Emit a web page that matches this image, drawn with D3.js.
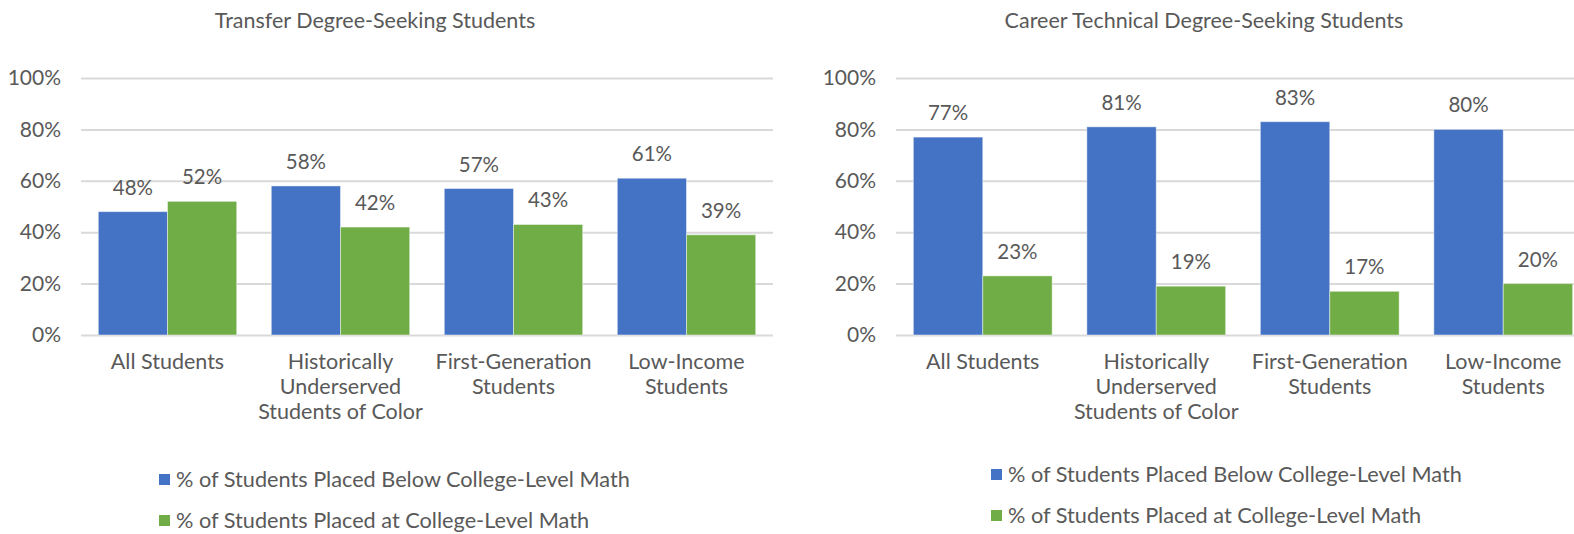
<!DOCTYPE html>
<html>
<head>
<meta charset="utf-8">
<script src="https://cdn.jsdelivr.net/npm/d3@7"></script>
<style>
  html, body { margin: 0; padding: 0; background: #fff; }
  svg { display: block; font-family: Lato, "Open Sans", sans-serif; }
  svg text { font-family: Lato, "Open Sans", sans-serif; }
</style>
</head>
<body>
<svg id="chart" width="1574" height="534"></svg>
<script>
// Student groups shown on both panels
const categories = [
  "All Students",
  "Historically Underserved Students of Color",
  "First-Generation Students",
  "Low-Income Students"
];

// Series names
const seriesNames = [
  "% of Students Placed Below College-Level Math",
  "% of Students Placed at College-Level Math"
];

// Transfer degree-seeking students (percent)
const transferBelow = [48, 58, 57, 61];
const transferAt = [52, 42, 43, 39];

// Career technical degree-seeking students (percent)
const careerBelow = [77, 81, 83, 80];
const careerAt = [23, 19, 17, 20];

// Y axis ticks
const yTicks = [0, 20, 40, 60, 80, 100];

const panelTitles = [
  "Transfer Degree-Seeking Students",
  "Career Technical Degree-Seeking Students"
];

const colors = ["#4472C4", "#70AD47"];
const textColor = "#595959";
const gridColor = "#D9D9D9";
const fontFamily = 'Lato, "Open Sans", sans-serif';

const svg = d3.select("#chart");

const panels = [
  { title: panelTitles[0], series: [transferBelow, transferAt],
    left: 81, right: 773, titleX: 375, legendX: 159, legendY: [474, 515] },
  { title: panelTitles[1], series: [careerBelow, careerAt],
    left: 896, right: 1590, titleX: 1204, legendX: 991, legendY: [469, 510] }
];

const plotTop = 78, plotBottom = 335;

function wrap(textSel, width) {
  textSel.each(function () {
    const text = d3.select(this);
    const words = text.text().split(/\s+/);
    const x = text.attr("x") || 0;
    const y = text.attr("y");
    text.text(null);
    let line = [];
    let lineNo = 0;
    let tspan = text.append("tspan").attr("x", x).attr("y", y).attr("dy", "0px");
    for (const w of words) {
      line.push(w);
      tspan.text(line.join(" "));
      if (tspan.node().getComputedTextLength() > width && line.length > 1) {
        line.pop();
        tspan.text(line.join(" "));
        line = [w];
        lineNo++;
        tspan = text.append("tspan").attr("x", x).attr("y", y)
          .attr("dy", (lineNo * 25) + "px").text(w);
      }
    }
  });
}

panels.forEach(p => {
  const g = svg.append("g");

  const x = d3.scaleBand().domain(categories).range([p.left, p.right]).padding(0);
  const x1 = d3.scaleBand().domain([0, 1])
    .range([0, x.bandwidth()]).paddingInner(0).paddingOuter(0.25);
  const y = d3.scaleLinear().domain([0, 100]).range([plotBottom, plotTop]);

  // Title
  g.append("text")
    .attr("x", p.titleX).attr("y", 28)
    .attr("text-anchor", "middle")
    .attr("fill", textColor)
    .style("font-size", "21.5px")
    .text(p.title);

  // Gridlines and y tick labels
  const yAxis = g.append("g")
    .attr("transform", `translate(${p.left},0)`)
    .call(d3.axisLeft(y).tickValues(yTicks)
      .tickSize(-(p.right - p.left)).tickPadding(20)
      .tickFormat(d => d + "%"))
    .attr("font-family", fontFamily);
  yAxis.select(".domain").remove();
  yAxis.selectAll(".tick line").attr("stroke", gridColor).attr("stroke-width", 2);
  yAxis.selectAll(".tick text")
    .attr("fill", textColor)
    .style("font-size", "21px");

  // Bars
  p.series.forEach((vals, si) => {
    g.append("g").selectAll("rect")
      .data(vals)
      .join("rect")
      .attr("x", (d, i) => x(categories[i]) + x1(si))
      .attr("y", d => y(d))
      .attr("width", x1.bandwidth())
      .attr("height", d => y(0) - y(d))
      .attr("fill", colors[si])
      .attr("stroke", "rgba(255,255,255,0.45)")
      .attr("stroke-width", 1);

    g.append("g").selectAll("text")
      .data(vals)
      .join("text")
      .attr("x", (d, i) => x(categories[i]) + x1(si) + x1.bandwidth() / 2)
      .attr("y", d => y(d) - 17)
      .attr("text-anchor", "middle")
      .attr("fill", textColor)
      .style("font-size", "20.5px")
      .text(d => d + "%");
  });

  // Category labels
  const xAxis = g.append("g")
    .attr("transform", `translate(0,${plotBottom})`)
    .call(d3.axisBottom(x).tickSize(0).tickPadding(0))
    .attr("font-family", fontFamily);
  xAxis.select(".domain").remove();
  xAxis.selectAll(".tick text")
    .attr("y", 34)
    .attr("dy", null)
    .attr("fill", textColor)
    .style("font-size", "21.5px")
    .call(wrap, 168);

  // Legend
  seriesNames.forEach((name, si) => {
    const ly = p.legendY[si];
    g.append("rect")
      .attr("x", p.legendX).attr("y", ly)
      .attr("width", 11).attr("height", 11)
      .attr("fill", colors[si]);
    g.append("text")
      .attr("x", p.legendX + 17).attr("y", ly + 12.5)
      .attr("fill", textColor)
      .style("font-size", "21.7px")
      .text(name);
  });
});
</script>
</body>
</html>
